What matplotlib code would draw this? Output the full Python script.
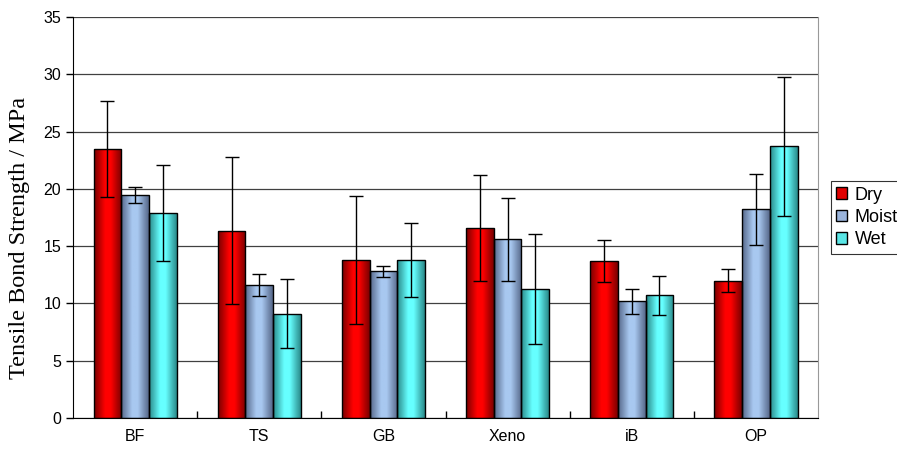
import numpy as np
import matplotlib
matplotlib.use("Agg")
import matplotlib.pyplot as plt
from matplotlib.colors import LinearSegmentedColormap
from matplotlib.patches import Patch

# data
categories = ["BF", "TS", "GB", "Xeno", "iB", "OP"]
series = ["Dry", "Moist", "Wet"]
dry = [23.5, 16.35, 13.8, 16.6, 13.7, 12.0]
dry_err = [4.2, 6.4, 5.6, 4.6, 1.8, 1.0]
moist = [19.5, 11.6, 12.8, 15.6, 10.2, 18.2]
moist_err = [0.7, 0.95, 0.5, 3.6, 1.1, 3.1]
wet = [17.9, 9.1, 13.8, 11.3, 10.7, 23.7]
wet_err = [4.2, 3.0, 3.2, 4.8, 1.7, 6.1]
yticks = [0, 5, 10, 15, 20, 25, 30, 35]

# (dark edge, bright centre, legend colour)
styles = [("#7a0000", "#ff0000", "#e00000"),
          ("#56688a", "#a8c8f0", "#9ab4dc"),
          ("#2a8a8a", "#66ffff", "#5ae6e6")]

fig = plt.figure(figsize=(8.97, 4.55), dpi=100)
ax = fig.add_axes([0.0814, 0.0813, 0.8306, 0.8813])

x = np.arange(len(categories))
w = 0.223
grad = np.linspace(0, 1, 64).reshape(1, -1)
for i, (vals, errs) in enumerate([(dry, dry_err), (moist, moist_err), (wet, wet_err)]):
    dark, light, _ = styles[i]
    cmap = LinearSegmentedColormap.from_list(
        "g%d" % i, [(0, dark), (0.4, light), (0.6, light), (1, dark)])
    pos = x + (i - 1) * w
    bars = ax.bar(pos, vals, w, facecolor="none", edgecolor="black", lw=1.0, zorder=3)
    for b in bars:
        im = ax.imshow(grad, extent=[b.get_x(), b.get_x() + b.get_width(), 0, b.get_height()],
                       aspect="auto", cmap=cmap, zorder=2, interpolation="bilinear")
        im.set_clip_path(b)
    ax.errorbar(pos, vals, yerr=errs, fmt="none", ecolor="black", elinewidth=1,
                capsize=5, capthick=1, zorder=4)

ax.set_aspect("auto")
ax.set_xlim(-0.5, len(categories) - 0.5)
ax.set_ylim(0, 35)
ax.set_yticks(yticks)
ax.yaxis.grid(True, color="#404040", lw=0.9, zorder=0)
ax.set_axisbelow(True)
ax.set_xticks(x)
ax.set_xticklabels(categories)
ax.set_xticks(np.arange(0.5, len(categories) - 1, 1.0), minor=True)
ax.tick_params(axis="x", which="major", length=0, pad=8, labelsize=11.5)
ax.tick_params(axis="x", which="minor", direction="in", length=5, width=1)
ax.tick_params(axis="y", direction="out", length=5, width=1, labelsize=11.5)
for lab in ax.get_xticklabels() + ax.get_yticklabels():
    lab.set_fontfamily("Liberation Sans")
ax.spines["top"].set_visible(False)
ax.spines["right"].set_color("#999999")
ax.spines["left"].set_color("black")
ax.spines["bottom"].set_color("black")
ax.set_ylabel("Tensile Bond Strength / MPa", fontfamily="Liberation Serif", fontsize=17.5)
ax.yaxis.set_label_coords(-0.058, 0.448)

handles = [Patch(facecolor=s[2], edgecolor="black", lw=1) for s in styles]
leg = fig.legend(handles, series, loc="center left", bbox_to_anchor=(0.9265, 0.522),
                 frameon=True, fancybox=False, edgecolor="black", handlelength=0.6,
                 handleheight=0.6, handletextpad=0.4, borderpad=0.3, labelspacing=0.3,
                 borderaxespad=0, prop={"family": "Liberation Sans", "size": 13})
leg.get_frame().set_linewidth(0.8)

fig.savefig("out.png", dpi=100)
